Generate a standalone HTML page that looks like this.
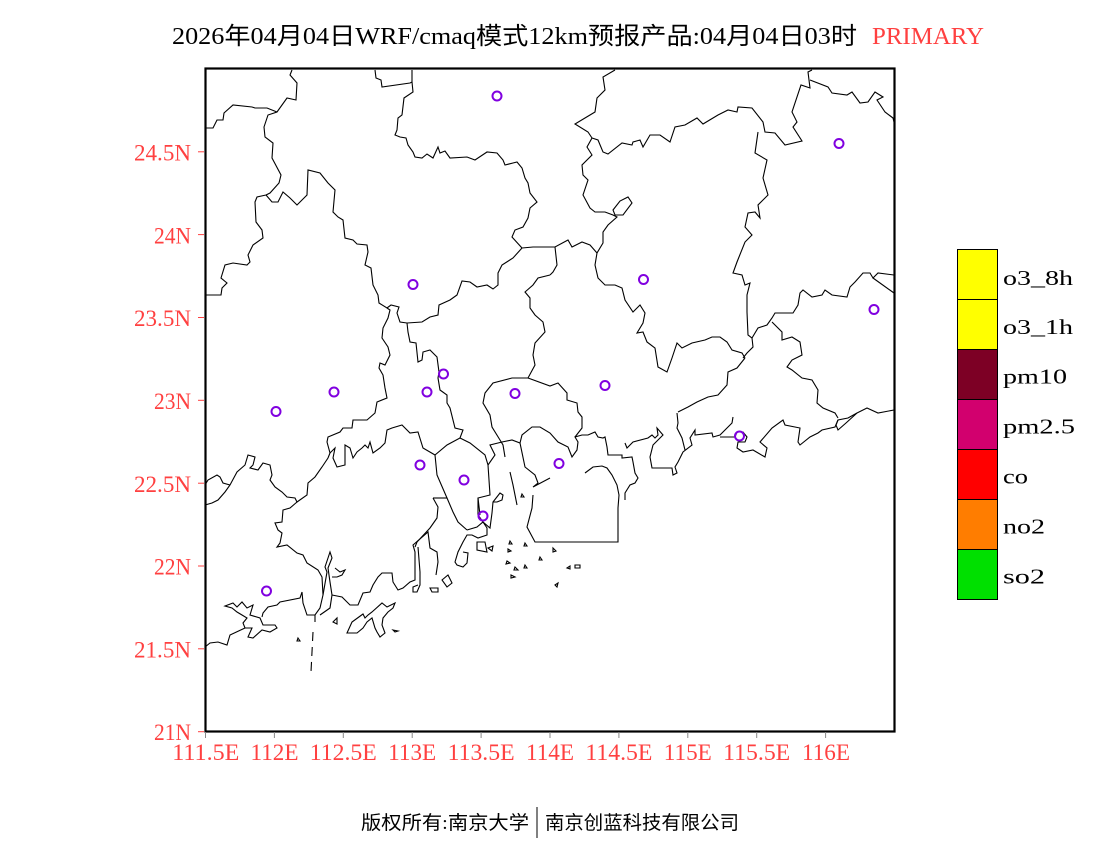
<!DOCTYPE html>
<html>
<head>
<meta charset="utf-8">
<style>
  html, body { margin: 0; padding: 0; background: #fff; }
  svg { display: block; }
  .serif { font-family: "Liberation Serif", "Noto Serif CJK SC", serif; }
  .cjk { font-family: "Liberation Serif", "Noto Sans CJK SC", "WenQuanYi Zen Hei", sans-serif; }
  .map polyline, .map polygon { fill: none; stroke: #000; stroke-width: 1.1; stroke-linejoin: miter; }
</style>
</head>
<body>
<svg width="1100" height="850" viewBox="0 0 1100 850" xmlns="http://www.w3.org/2000/svg">
  <rect x="0" y="0" width="1100" height="850" fill="#fff"/>

  <!-- Title -->
  <text class="cjk" x="172" y="44" font-size="24" fill="#000" textLength="685" lengthAdjust="spacingAndGlyphs">2026年04月04日WRF/cmaq模式12km预报产品:04月04日03时</text>
  <text class="serif" x="872" y="44" font-size="24" fill="#ff4040" textLength="112" lengthAdjust="spacingAndGlyphs">PRIMARY</text>

  <!-- Map -->
  <g class="map">
    <polyline points="292,70 290,75 297,83 296,100 287,98 277,112 268,115 264,127 265,137 273,143 272,158 281,175 279,183 270,193 266,195"/>
    <polyline points="205,128 213,128 217,120 223,120 224,113 233,105 252,107 255,108 267,108 277,112"/>
    <polyline points="266,195 272,202 278,202 283,192 290,198 297,205 302,200 307,195 308,170 320,173 328,183 335,190 333,212 338,217 343,220 345,238 353,240 357,244 367,245 368,252 365,265 371,268 373,285 378,295 379,303 387,308 391,305 399,307 397,313 400,322 407,323"/>
    <polyline points="266,195 257,197 255,202 256,222 262,230 263,238 253,245 248,255 250,262 247,265 233,263 225,265 221,278 227,283 222,288 221,295 205,295"/>
    <polyline points="375,70 376,78 381,80 382,87 410,83 412,82 412,70"/>
    <polyline points="412,82 413,92 404,98 402,115 398,118 397,130 395,135 400,137 406,138 408,145 413,152 415,157 422,158 427,154 433,158 438,147 440,153 445,151 450,158 467,157 475,160 487,152 497,153 503,160 505,165 513,163 517,162 522,168 525,178 528,183 530,193 537,202 530,208 528,218 523,227 515,230 512,237 522,248"/>
    <polyline points="522,248 533,247 550,247 555,247 568,240 572,247 582,242 590,245 597,253"/>
    <polyline points="522,248 513,258 502,265 498,273 498,285 493,289 487,285 477,287 470,282 462,281 457,295 450,300 439,305 438,315 430,317 422,322 407,323"/>
    <polyline points="387,308 390,310 388,318 383,328 382,338 388,347 390,355 385,365 380,363 379,368 383,375 385,388 387,398 377,402 375,413 367,420 353,420 352,428 343,428 340,432 328,437 327,442 330,453 335,448 333,458 337,467 345,465 345,445 350,448 353,458 357,452 362,448 365,445 368,448 370,442 373,453 380,448 385,443 387,430 392,428 402,425 410,433 418,432 423,448 435,455 437,475 447,498 453,512 458,522 467,530"/>
    <polyline points="407,323 408,332 410,342 416,343 418,362 422,360 423,352 430,350 437,357 439,372 438,378 440,390 447,395 447,403 450,408 455,428 463,430 460,438 447,445 435,455"/>
    <polyline points="460,438 470,443 485,455 488,465 490,495 478,498 480,515"/>
    <polyline points="550,275 553,272 557,265 555,247"/>
    <polyline points="550,275 538,278 533,285 525,292 530,298 530,308 535,315 543,322 545,332 535,343 533,355 535,365 528,378 512,378 493,383 485,393 483,403 490,415 492,427 500,440 503,445 505,457"/>
    <polyline points="528,378 550,386 558,383 567,393 567,400 577,403 578,412 582,417 582,428 575,437"/>
    <polyline points="488,465 495,455 490,445 502,442 512,440 520,443 522,435 532,427 540,427 550,433 558,442 568,447 572,457 577,450 578,442 575,437 582,435 588,435 595,432 598,437 603,438 605,437 607,447 608,455 622,455 622,458 632,457 633,462 635,473 638,478 635,483 630,485 625,493 625,500"/>
    <polyline points="520,443 525,467 535,475 538,483 533,487 550,478"/>
    <polyline points="510,472 513,485 517,505"/>
    <polyline points="533,495 532,508 527,527 535,542 618,542 618,508 619,495 617,485 612,475 607,468 602,466 593,467 585,473"/>
    <polyline points="205,505 212,503 218,500 225,492 230,485 237,472 245,465 248,455 255,457 253,465 250,468 258,470 263,463 270,465 272,475 270,480 275,487 282,492 287,497 295,498 297,502 307,495 308,483 315,477 322,467 328,458 330,453"/>
    <polyline points="205,485 208,480 217,475 220,477 223,483 230,485"/>
    <polyline points="297,502 290,508 283,510 282,522 275,523 278,530 282,533 280,543 277,547 287,545 297,553 303,555 307,563 318,570 322,577 323,595 320,608 315,615 307,615 303,603 302,592 300,598 280,602 277,605 268,607 263,613 262,617"/>
    <polygon points="225,606 233,603 237,607 242,602 247,608 253,605 250,615 260,618 263,625 275,625 277,628 270,632 262,630 253,638 248,637 252,628 245,628 243,623 247,618 242,615 237,612 232,608"/>
    <polyline points="205,647 210,643 218,642 227,645 230,635 245,628"/>
    <polyline points="315,615 315,622"/>
    <line x1="313" y1="632" x2="311" y2="672" stroke="#000" stroke-width="1.1" stroke-dasharray="9,6"/>
    <polyline points="323,595 327,572 325,567 328,558 330,552 332,558 328,568 330,582 332,595 330,608 320,615"/>
    <polyline points="332,595 342,597 350,605 358,605 363,593 370,592 373,585 378,577 382,573 392,573 393,582 398,590 403,588 410,582 415,580 415,552 413,545 428,532 430,548 437,552 438,562 436,575"/>
    <polyline points="332,577 337,577 342,575 345,570 340,572 335,568"/>
    <polyline points="433,498 447,498"/>
    <polyline points="433,498 438,507 437,518 430,528 417,542 415,547"/>
    <polyline points="418,547 420,572 420,585 417,592 413,592 413,587 418,585"/>
    <polyline points="467,530 477,527 483,522 487,528 487,535 478,538 472,535 467,535 463,542 458,552 455,562 457,565 463,567 467,563 468,553 463,552"/>
    <polyline points="478,498 478,515 483,522 490,528 492,513 493,502 500,493 503,495 502,500 497,502 493,502"/>
    <polygon points="477,542 485,542 487,552 477,550"/>
    <polygon points="488,548 493,546 492,551"/>
    <polygon points="347,633 352,622 363,614 365,618 368,615 372,612 382,603 387,607 395,603 393,608 388,612 383,618 382,625 385,633 380,637 377,632 375,628 372,618 367,622 363,628 357,633"/>
    <polygon points="430,588 438,588 438,592 432,592"/>
    <polygon points="442,580 448,575 452,583 447,587"/>
    <polygon points="333,622 337,618 337,624"/>
    <polygon points="393,630 398,631 395,632"/>
    <polygon points="298,638 300,641 297,641"/>
    <polygon points="510,541 512,544 509,544"/>
    <polygon points="525,543 527,546 524,546"/>
    <polygon points="507,561 510,563 506,564"/>
    <polygon points="515,567 518,570 514,570"/>
    <polygon points="511,575 515,577 511,578"/>
    <polygon points="525,565 527,568 524,568"/>
    <polygon points="540,557 542,560 539,560"/>
    <polygon points="522,494 524,497 521,497"/>
    <polygon points="508,549 511,551 508,552"/>
    <polygon points="553,548 556,551 553,552"/>
    <polygon points="567,568 570,566 570,569"/>
    <polygon points="575,565 580,565 580,568 575,568"/>
    <polygon points="555,585 558,583 557,587"/>
    <polyline points="625,443 627,448 633,442 648,438 652,435 655,438 658,435 657,428 663,435 653,445 650,457 652,468 672,468 673,475 677,473 675,467 678,462 683,452 692,445 690,438 695,430 695,435 712,433 713,437 720,435 727,428 732,423 733,417"/>
    <polyline points="677,413 678,423 677,428 682,438 685,450"/>
    <polyline points="678,412 688,407 697,402 708,397 718,395 727,385 728,372 737,368 745,358"/>
    <polyline points="720,437 735,437 737,432 743,432 747,437 745,442 738,442 737,448 743,452 753,450 765,457 767,448 760,442 772,428 783,420 785,425 800,428 798,442 800,445 810,437 818,433 822,430 835,427 838,420 848,418 857,413 867,408 878,413 894,410"/>
    <polyline points="838,420 836,425 838,430 846,423 857,413"/>
    <polyline points="772,322 782,332 782,340 792,337 800,342 802,355 792,360 787,367 792,370 802,378 812,380 818,390 817,403 823,408 835,413 838,418"/>
    <polyline points="615,70 603,77 605,90 597,98 595,112 585,118 575,124 588,132 592,138 587,147 592,155 582,165 583,175 588,180 583,195 590,208 595,212 605,212 613,215 617,217 608,225 603,232 603,243 597,253 595,265 598,278 605,285 615,285 622,288 625,300 633,312 640,305 645,313 643,323 637,333 643,332 647,342 655,348 658,367 667,372 672,358 677,343 682,348 692,343 705,340 712,337 720,337 727,342 732,350 742,353 745,358"/>
    <polygon points="613,210 620,201 628,197 632,203 623,215 615,215"/>
    <polyline points="592,138 598,140 603,152 608,154 622,143 632,145 633,142 640,140 643,147 650,135 660,135 670,142 675,127 685,125 697,118 703,124 718,115 728,110 737,112 738,107 752,108 763,122 765,132 775,133 785,145 802,141 793,127 797,122 792,112 801,85 810,88 808,72 812,70"/>
    <polyline points="810,80 828,87 832,93 847,95 852,92 860,103 868,102 875,92 883,97 877,100 885,112 893,118 894,122"/>
    <polyline points="758,132 755,153 767,160 763,178 768,195 758,205 760,218 755,212 748,213 745,227 752,235 745,242 737,262 733,273 742,275 745,285 750,283 747,295 747,312 748,335 752,338 753,347 747,353 743,358"/>
    <polyline points="752,338 758,328 767,325 772,318 775,313 782,313 793,313 798,305 800,293 803,290 812,297 822,295 825,290 832,295 847,297 850,287 855,282 863,273 870,273 873,278 878,273 894,275"/>
    <polyline points="873,278 894,293"/>
  </g>

  <!-- Stations -->
  <g fill="none" stroke="#8000e0" stroke-width="2">
    <circle cx="497" cy="96" r="4.5"/>
    <circle cx="839" cy="143.5" r="4.5"/>
    <circle cx="413" cy="284.5" r="4.5"/>
    <circle cx="643.5" cy="279.5" r="4.5"/>
    <circle cx="874" cy="309.5" r="4.5"/>
    <circle cx="443.5" cy="374" r="4.5"/>
    <circle cx="334" cy="392" r="4.5"/>
    <circle cx="427" cy="392" r="4.5"/>
    <circle cx="515" cy="393.5" r="4.5"/>
    <circle cx="605" cy="385.5" r="4.5"/>
    <circle cx="276" cy="411.5" r="4.5"/>
    <circle cx="739.5" cy="436" r="4.5"/>
    <circle cx="420" cy="465" r="4.5"/>
    <circle cx="559" cy="463.5" r="4.5"/>
    <circle cx="464" cy="480" r="4.5"/>
    <circle cx="483" cy="516" r="4.5"/>
    <circle cx="266.5" cy="591" r="4.5"/>
  </g>

  <!-- Frame -->
  <rect x="205.5" y="68.5" width="689" height="663" fill="none" stroke="#000" stroke-width="2.2"/>

  <!-- Y ticks -->
  <g stroke="#ff4040" stroke-width="1">
    <line x1="198" y1="731.7" x2="204" y2="731.7"/>
    <line x1="198" y1="648.8" x2="204" y2="648.8"/>
    <line x1="198" y1="566" x2="204" y2="566"/>
    <line x1="198" y1="483.2" x2="204" y2="483.2"/>
    <line x1="198" y1="400.3" x2="204" y2="400.3"/>
    <line x1="198" y1="317.5" x2="204" y2="317.5"/>
    <line x1="198" y1="234.6" x2="204" y2="234.6"/>
    <line x1="198" y1="151.8" x2="204" y2="151.8"/>
  </g>
  <!-- X ticks -->
  <g stroke="#888" stroke-width="1">
    <line x1="205.5" y1="732" x2="205.5" y2="738"/>
    <line x1="274.4" y1="732" x2="274.4" y2="738"/>
    <line x1="343.3" y1="732" x2="343.3" y2="738"/>
    <line x1="412.2" y1="732" x2="412.2" y2="738"/>
    <line x1="481.1" y1="732" x2="481.1" y2="738"/>
    <line x1="550" y1="732" x2="550" y2="738"/>
    <line x1="618.9" y1="732" x2="618.9" y2="738"/>
    <line x1="687.8" y1="732" x2="687.8" y2="738"/>
    <line x1="756.7" y1="732" x2="756.7" y2="738"/>
    <line x1="825.6" y1="732" x2="825.6" y2="738"/>
  </g>

  <!-- Y labels -->
  <g class="serif" font-size="23" fill="#ff4040" text-anchor="end">
    <text x="191" y="740" textLength="37" lengthAdjust="spacingAndGlyphs">21N</text>
    <text x="191" y="657.5" textLength="57" lengthAdjust="spacingAndGlyphs">21.5N</text>
    <text x="191" y="574.7" textLength="37" lengthAdjust="spacingAndGlyphs">22N</text>
    <text x="191" y="491.9" textLength="57" lengthAdjust="spacingAndGlyphs">22.5N</text>
    <text x="191" y="409" textLength="37" lengthAdjust="spacingAndGlyphs">23N</text>
    <text x="191" y="326.2" textLength="57" lengthAdjust="spacingAndGlyphs">23.5N</text>
    <text x="191" y="243.3" textLength="37" lengthAdjust="spacingAndGlyphs">24N</text>
    <text x="191" y="160.5" textLength="57" lengthAdjust="spacingAndGlyphs">24.5N</text>
  </g>

  <!-- X labels -->
  <g class="serif" font-size="23" fill="#ff4040">
    <text x="172.3" y="760" textLength="67" lengthAdjust="spacingAndGlyphs">111.5E</text>
    <text x="250.5" y="760" textLength="48" lengthAdjust="spacingAndGlyphs">112E</text>
    <text x="309.8" y="760" textLength="67" lengthAdjust="spacingAndGlyphs">112.5E</text>
    <text x="388.2" y="760" textLength="48" lengthAdjust="spacingAndGlyphs">113E</text>
    <text x="447.6" y="760" textLength="67" lengthAdjust="spacingAndGlyphs">113.5E</text>
    <text x="526" y="760" textLength="48" lengthAdjust="spacingAndGlyphs">114E</text>
    <text x="585.4" y="760" textLength="67" lengthAdjust="spacingAndGlyphs">114.5E</text>
    <text x="663.8" y="760" textLength="48" lengthAdjust="spacingAndGlyphs">115E</text>
    <text x="723.2" y="760" textLength="67" lengthAdjust="spacingAndGlyphs">115.5E</text>
    <text x="802" y="760" textLength="48" lengthAdjust="spacingAndGlyphs">116E</text>
  </g>

  <!-- Legend -->
  <g stroke="#000" stroke-width="1">
    <rect x="957.5" y="249.5" width="40" height="50" fill="#ffff00"/>
    <rect x="957.5" y="299.5" width="40" height="50" fill="#ffff00"/>
    <rect x="957.5" y="349.5" width="40" height="50" fill="#7d0025"/>
    <rect x="957.5" y="399.5" width="40" height="50" fill="#d2006e"/>
    <rect x="957.5" y="449.5" width="40" height="50" fill="#ff0000"/>
    <rect x="957.5" y="499.5" width="40" height="50" fill="#ff7d00"/>
    <rect x="957.5" y="549.5" width="40" height="50" fill="#00e000"/>
  </g>
  <g class="serif" font-size="21" fill="#000">
    <text x="1003" y="285" textLength="70" lengthAdjust="spacingAndGlyphs">o3_8h</text>
    <text x="1003" y="334" textLength="70" lengthAdjust="spacingAndGlyphs">o3_1h</text>
    <text x="1003" y="383.5" textLength="64" lengthAdjust="spacingAndGlyphs">pm10</text>
    <text x="1003" y="433.5" textLength="72" lengthAdjust="spacingAndGlyphs">pm2.5</text>
    <text x="1003" y="483.5" textLength="25" lengthAdjust="spacingAndGlyphs">co</text>
    <text x="1003" y="533.5" textLength="42" lengthAdjust="spacingAndGlyphs">no2</text>
    <text x="1003" y="583.5" textLength="42" lengthAdjust="spacingAndGlyphs">so2</text>
  </g>

  <!-- Footer -->
  <text class="cjk" x="361" y="829" font-size="19" fill="#000" textLength="168" lengthAdjust="spacingAndGlyphs">版权所有:南京大学</text>
  <line x1="537" y1="807" x2="537" y2="838" stroke="#000" stroke-width="1"/>
  <text class="cjk" x="545" y="829" font-size="19" fill="#000" textLength="194" lengthAdjust="spacingAndGlyphs">南京创蓝科技有限公司</text>
</svg>
</body>
</html>
